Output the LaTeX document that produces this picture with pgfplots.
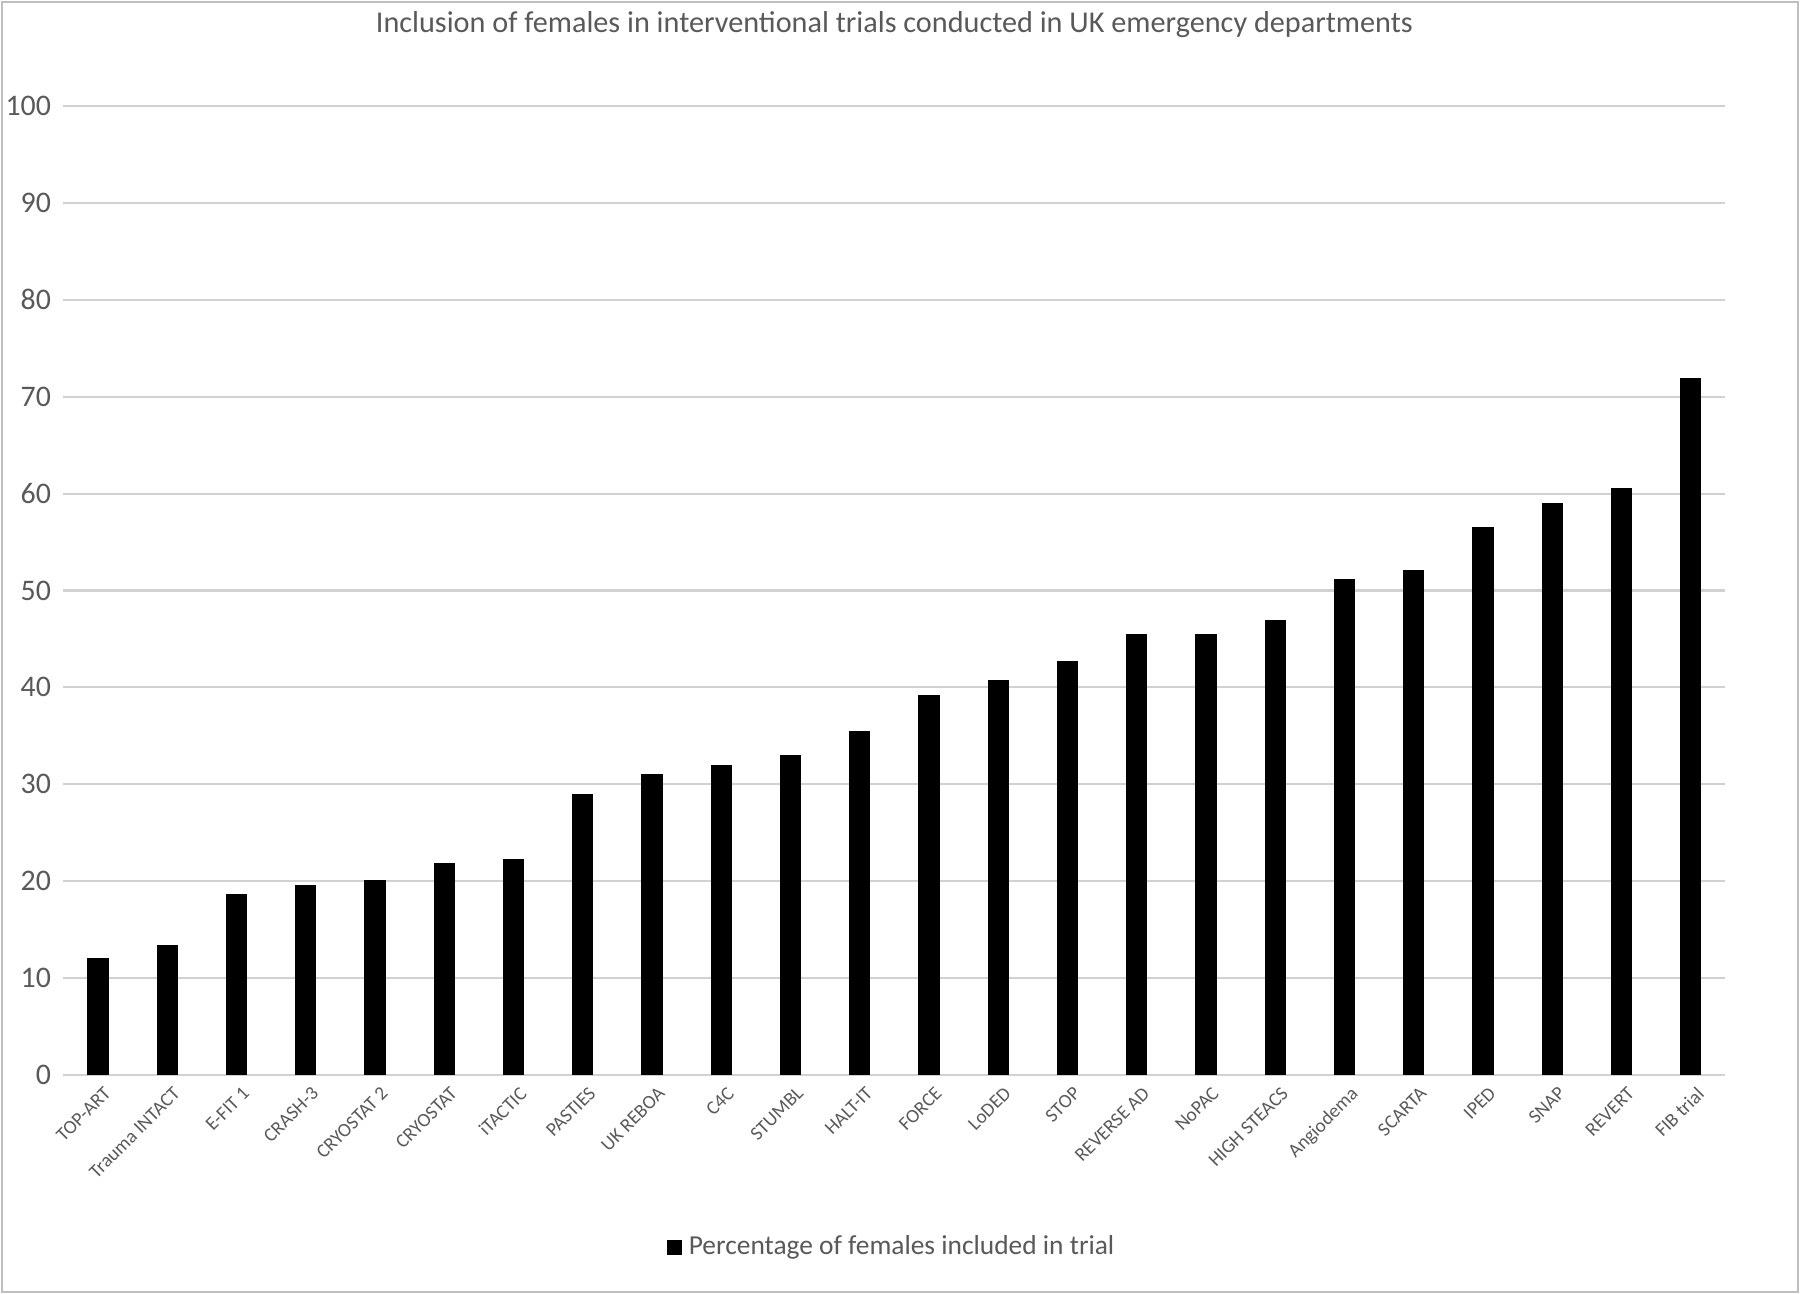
\documentclass[border=0pt]{standalone}
\usepackage{pgfplots}
\pgfplotsset{compat=1.18}
\usepackage{fontspec}
\setmainfont{Carlito}
\definecolor{txt}{RGB}{89,89,89}
\begin{document}
\begin{tikzpicture}
\useasboundingbox (-0.98cm,-2.19cm) rectangle ++(18cm,12.94cm);
\draw[black!25,line width=0.6pt] (-0.96cm,-2.17cm) rectangle ++(17.96cm,12.9cm);
\begin{axis}[at={(0,0)},anchor=origin,
  scale only axis, width=16.62cm, height=9.69cm,
  xmin=-0.5, xmax=23.5, ymin=0, ymax=100, ytick={0,10,...,100},
  ybar, bar width=0.2cm, bar shift=0pt,
  xtick={0,...,23},
  xticklabels={TOP-ART,Trauma INTACT,E-FIT 1,CRASH-3,CRYOSTAT 2,CRYOSTAT,iTACTIC,PASTIES,UK REBOA,C4C,STUMBL,HALT-IT,FORCE,LoDED,STOP,REVERSE AD,NoPAC,HIGH STEACS,Angiodema,SCARTA,IPED,SNAP,REVERT,FIB trial},
  x tick label style={rotate=45,anchor=north east,font=\fontsize{5.5}{6.5}\selectfont,text=txt,inner sep=1pt,yshift=-2pt},
  y tick label style={font=\fontsize{8.5}{10}\selectfont,text=txt},
  /pgf/number format/assume math mode=true,
  ymajorgrids, major grid style={black!18,line width=0.6pt},
  axis line style={draw=none}, axis x line*=bottom,
  extra y ticks={0}, extra y tick labels={},
  extra y tick style={grid style={black!30}},
  major tick length=0pt,
  title={Inclusion of females in interventional trials conducted in UK emergency departments},
  title style={font=\fontsize{8.6}{10}\selectfont,text=txt,at={(0.5,1)},yshift=0.35cm},
  legend style={at={(0.5,-0.15)},anchor=north,draw=none,font=\fontsize{7.8}{9}\selectfont,text=txt},
  legend image code/.code={\fill[black] (0cm,-0.07cm) rectangle (0.13cm,0.07cm);},
]
\addplot[fill=black,draw=black] coordinates {(0,12) (1,13.3) (2,18.6) (3,19.5) (4,20) (5,21.8) (6,22.2) (7,28.9) (8,31) (9,31.9) (10,32.9) (11,35.4) (12,39.1) (13,40.7) (14,42.6) (15,45.4) (16,45.4) (17,46.9) (18,51.1) (19,52) (20,56.5) (21,59) (22,60.5) (23,71.9)};
\addlegendentry{Percentage of females included in trial}
\end{axis}
\end{tikzpicture}
\end{document}
